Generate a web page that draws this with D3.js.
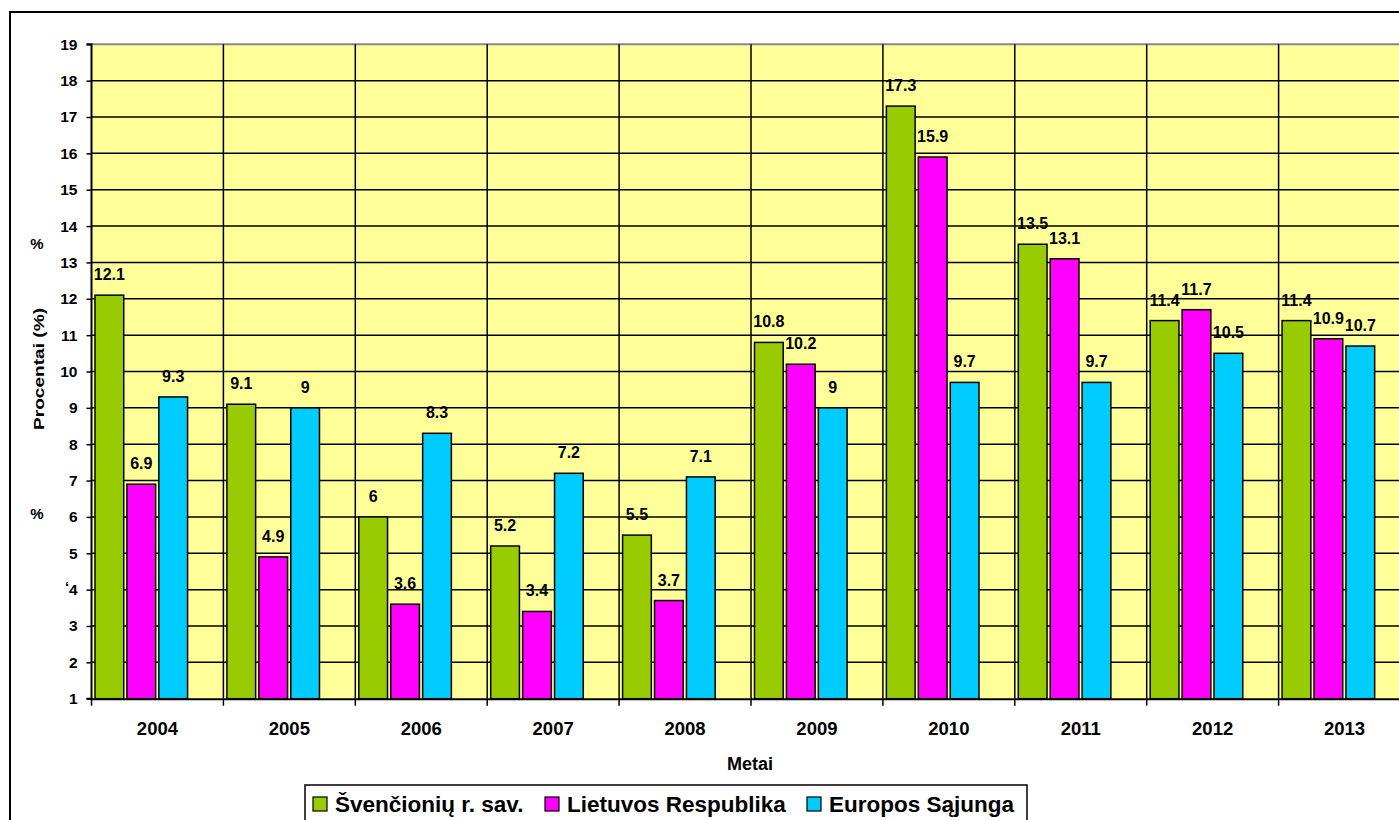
<!DOCTYPE html>
<html>
<head>
<meta charset="utf-8">
<script src="https://cdn.jsdelivr.net/npm/d3@7"></script>
<style>
  body { margin: 0; background: #fff; }
  svg { display: block; font-family: Arial, "Liberation Sans", sans-serif; }
</style>
</head>
<body>
<svg id="chart" width="1399" height="820"></svg>
<script>
const years = ["2004", "2005", "2006", "2007", "2008", "2009", "2010", "2011", "2012", "2013"];
const seriesNames = ["Švenčionių r. sav.", "Lietuvos Respublika", "Europos Sąjunga"];
const svencionys = [12.1, 9.1, 6, 5.2, 5.5, 10.8, 17.3, 13.5, 11.4, 11.4];
const lietuva = [6.9, 4.9, 3.6, 3.4, 3.7, 10.2, 15.9, 13.1, 11.7, 10.9];
const europa = [9.3, 9, 8.3, 7.2, 7.1, 9, 9.7, 9.7, 10.5, 10.7];
const colors = ["#99cc00", "#ff00ff", "#00ccff"];
const yTicks = d3.range(1, 20);

const svg = d3.select("#chart");
const plotLeft = 91.5, plotTop = 44.3, plotBottom = 698.7;
const catW = 131.9;
const plotW = catW * years.length;

// outer frame
svg.append("rect")
  .attr("x", 10).attr("y", 12)
  .attr("width", 1420).attr("height", 830)
  .attr("fill", "#fff").attr("stroke", "#000").attr("stroke-width", 2);

const x0 = d3.scaleBand().domain(years).range([plotLeft, plotLeft + plotW]).padding(0);
const x1 = d3.scaleBand().domain([0, 1, 2, 3]).range([3.5, 128]).paddingInner(0.1);
const y = d3.scaleLinear().domain([1, 19]).range([plotBottom, plotTop]);

// plot background
svg.append("rect")
  .attr("x", plotLeft).attr("y", plotTop)
  .attr("width", plotW).attr("height", plotBottom - plotTop)
  .attr("fill", "#ffff99");

// horizontal grid
svg.append("g").selectAll("line")
  .data(yTicks.slice(1))
  .join("line")
  .attr("x1", plotLeft).attr("x2", plotLeft + plotW)
  .attr("y1", d => y(d)).attr("y2", d => y(d))
  .attr("stroke", d => d === 19 ? "#888" : "#000").attr("stroke-width", d => d === 19 ? 2 : 1.5);

// vertical grid at category boundaries
svg.append("g").selectAll("line")
  .data(years.slice(1))
  .join("line")
  .attr("x1", d => x0(d)).attr("x2", d => x0(d))
  .attr("y1", plotTop).attr("y2", plotBottom)
  .attr("stroke", "#000").attr("stroke-width", 1.5);

const data = years.map((yr, i) => ({ year: yr, vals: [svencionys[i], lietuva[i], europa[i]] }));

const groups = svg.append("g").selectAll("g")
  .data(data)
  .join("g")
  .attr("transform", d => `translate(${x0(d.year)},0)`);

groups.selectAll("rect")
  .data(d => d.vals)
  .join("rect")
  .attr("x", (d, i) => x1(i))
  .attr("y", d => y(d))
  .attr("width", x1.bandwidth())
  .attr("height", d => plotBottom - y(d))
  .attr("fill", (d, i) => colors[i])
  .attr("stroke", "#000").attr("stroke-width", 1.5);

groups.selectAll("text")
  .data(d => d.vals)
  .join("text")
  .attr("x", (d, i) => x1(i) + x1.bandwidth() / 2)
  .attr("y", d => y(d) - 15)
  .attr("text-anchor", "middle")
  .attr("font-size", 16).attr("font-weight", "bold")
  .text(d => d);

// axes
const yAxis = d3.axisLeft(y).tickValues(yTicks).tickSize(5).tickFormat(d3.format("d"));
const gy = svg.append("g").attr("transform", `translate(${plotLeft},0)`).call(yAxis);
gy.select(".domain").attr("stroke", "#000").attr("stroke-width", 2).attr("d", `M-5,${plotTop}H0V${plotBottom}H-5`);
gy.selectAll(".tick line").attr("stroke-width", 1.5);
gy.selectAll(".tick text").attr("font-size", 15.5).attr("font-weight", "bold")
  .attr("font-family", "Arial, 'Liberation Sans', sans-serif").attr("fill", "#000").attr("x", -14);

const xAxis = d3.axisBottom(x0).tickSize(0).tickSizeOuter(0);
const gx = svg.append("g").attr("transform", `translate(0,${plotBottom})`).call(xAxis);
gx.select(".domain").attr("stroke", "#000").attr("stroke-width", 2);
gx.selectAll(".tick text").attr("font-size", 18.5).attr("font-weight", "bold")
  .attr("font-family", "Arial, 'Liberation Sans', sans-serif").attr("fill", "#000")
  .attr("dy", null).attr("y", 36);
svg.append("g").selectAll("line")
  .data(years)
  .join("line")
  .attr("x1", d => x0(d)).attr("x2", d => x0(d))
  .attr("y1", plotBottom).attr("y2", plotBottom + 7)
  .attr("stroke", "#000").attr("stroke-width", 1.5);

// axis titles
svg.append("text")
  .attr("transform", "translate(44,369) rotate(-90)")
  .attr("text-anchor", "middle")
  .attr("font-size", 15).attr("font-weight", "bold")
  .attr("textLength", 122).attr("lengthAdjust", "spacingAndGlyphs")
  .text("Procentai (%)");
svg.append("text").attr("x", 37).attr("y", 249).attr("text-anchor", "middle")
  .attr("font-size", 15).attr("font-weight", "bold").text("%");
svg.append("text").attr("x", 37).attr("y", 519).attr("text-anchor", "middle")
  .attr("font-size", 15).attr("font-weight", "bold").text("%");
svg.append("text").attr("x", 67).attr("y", 592).attr("text-anchor", "middle")
  .attr("font-size", 15).attr("font-weight", "bold").text("‘");
svg.append("text")
  .attr("x", 750).attr("y", 770)
  .attr("text-anchor", "middle")
  .attr("font-size", 18).attr("font-weight", "bold")
  .text("Metai");

// legend
const lg = svg.append("g");
lg.append("rect")
  .attr("x", 305).attr("y", 785)
  .attr("width", 722).attr("height", 60)
  .attr("fill", "#fff").attr("stroke", "#000").attr("stroke-width", 1.5);
const legX = [313, 545, 807];
const items = lg.selectAll("g")
  .data(seriesNames)
  .join("g")
  .attr("transform", (d, i) => `translate(${legX[i]},797)`);
items.append("rect")
  .attr("width", 14).attr("height", 14)
  .attr("fill", (d, i) => colors[i]).attr("stroke", "#000").attr("stroke-width", 1.2);
items.append("text")
  .attr("x", 22).attr("y", 15)
  .attr("font-size", 22.5).attr("font-weight", "bold")
  .text(d => d);
</script>
</body>
</html>
